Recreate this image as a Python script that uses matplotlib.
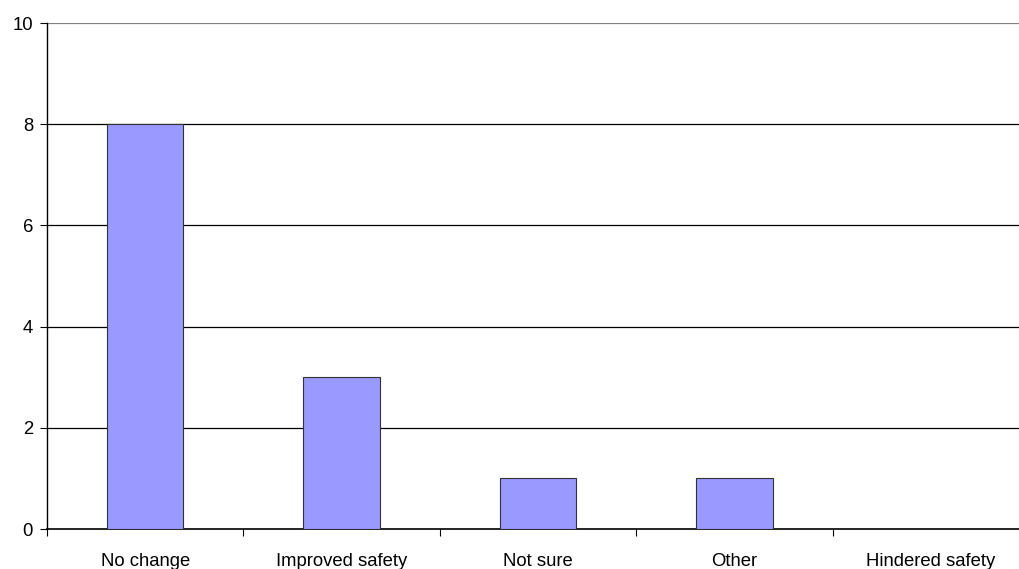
import matplotlib
matplotlib.use("Agg")
import matplotlib.pyplot as plt
import numpy as np

categories = ["No change", "Improved safety", "Not sure", "Other", "Hindered safety"]
values = [8, 3, 1, 1, 0]
yticks = [0, 2, 4, 6, 8, 10]

plt.rcParams['font.family'] = ['Liberation Sans', 'DejaVu Sans']

W, H = 1019, 569
fig = plt.figure(figsize=(W/100, H/100), dpi=100)
left, right, top, bottom = 47, 1029, 23, 529
ax = fig.add_axes([left/W, 1-bottom/H, (right-left)/W, (bottom-top)/H])

x = np.arange(len(categories))
ax.bar(x, values, width=0.39, color="#9999FF", edgecolor="#333333", linewidth=0.8, zorder=3)

ax.set_xlim(-0.5, len(categories)-0.5)
ax.set_ylim(0, 10)
ax.set_yticks(yticks)
ax.set_yticklabels([str(t) for t in yticks], fontsize=13.3)

for t in yticks[1:-1]:
    ax.axhline(t, color="black", linewidth=0.9, zorder=1)
ax.axhline(10, color="#808080", linewidth=1.6, zorder=1)

ax.set_xticks(np.arange(len(categories)+1)-0.5)
ax.set_xticklabels([])
ax.set_xticks(x, minor=True)
ax.set_xticklabels(categories, minor=True, fontsize=13.3)
ax.tick_params(axis='x', which='minor', length=0, pad=17)
ax.tick_params(axis='x', which='major', length=5, direction='out', color='black')
ax.tick_params(axis='y', length=5, direction='out', pad=5)

for s in ["top", "right"]:
    ax.spines[s].set_visible(False)
ax.spines["left"].set_linewidth(1.0)
ax.spines["bottom"].set_linewidth(1.2)

fig.savefig("out.png", dpi=100)
